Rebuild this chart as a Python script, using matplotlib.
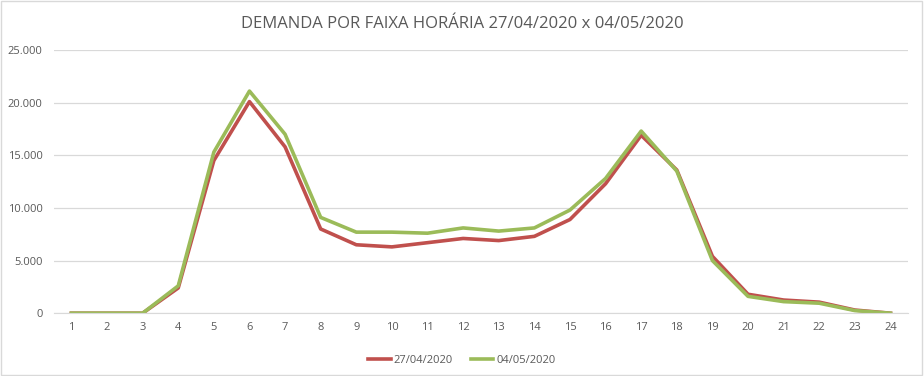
import matplotlib.pyplot as plt
from matplotlib.ticker import FuncFormatter

horas = list(range(1, 25))
dia_27_04 = [0, 0, 0, 2400, 14500, 20100, 15800, 8000, 6500, 6300, 6700, 7100,
             6900, 7300, 8900, 12300, 16900, 13600, 5400, 1800, 1250, 1050, 300, 0]
dia_04_05 = [0, 0, 0, 2600, 15300, 21100, 17000, 9100, 7700, 7700, 7600, 8100,
             7800, 8100, 9800, 12800, 17300, 13500, 5000, 1600, 1100, 950, 250, 0]

plt.rcParams['font.family'] = ['Open Sans', 'DejaVu Sans']
cinza = '#595959'

fig = plt.figure(figsize=(9.24, 3.76), dpi=100)
ax = fig.add_axes([0.058, 0.167, 0.925, 0.70])

ax.plot(horas, dia_27_04, color='#C0504D', lw=2.6, label='27/04/2020')
ax.plot(horas, dia_04_05, color='#9BBB59', lw=2.6, label='04/05/2020')

ax.set_xlim(0.5, 24.5)
ax.set_ylim(0, 25000)
ax.set_xticks(horas)
ax.set_yticks(range(0, 25001, 5000))
ax.yaxis.set_major_formatter(FuncFormatter(lambda v, p: f'{int(v):,}'.replace(',', '.')))
ax.grid(axis='y', color='#D9D9D9', lw=0.9)
ax.set_axisbelow(True)
for s in ['top', 'right', 'left']:
    ax.spines[s].set_visible(False)
ax.spines['bottom'].set_color('#D9D9D9')
ax.tick_params(axis='both', length=0, labelsize=8, colors=cinza, pad=6)
ax.tick_params(axis='y', pad=8)

fig.text(0.5, 0.935, 'DEMANDA POR FAIXA HORÁRIA 27/04/2020 x 04/05/2020',
         fontsize=12, color=cinza, ha='center', va='center')

fig.legend(loc='lower center', bbox_to_anchor=(0.5, 0.0), ncol=2, frameon=False,
           fontsize=8, labelcolor=cinza, handlelength=2.0, handletextpad=0.3,
           columnspacing=1.6)

fig.patches.append(plt.Rectangle((0.001, 0.002), 0.997, 0.995, transform=fig.transFigure,
                                 fill=False, edgecolor='#D9D9D9', lw=1))

fig.savefig('out.png', dpi=100)
